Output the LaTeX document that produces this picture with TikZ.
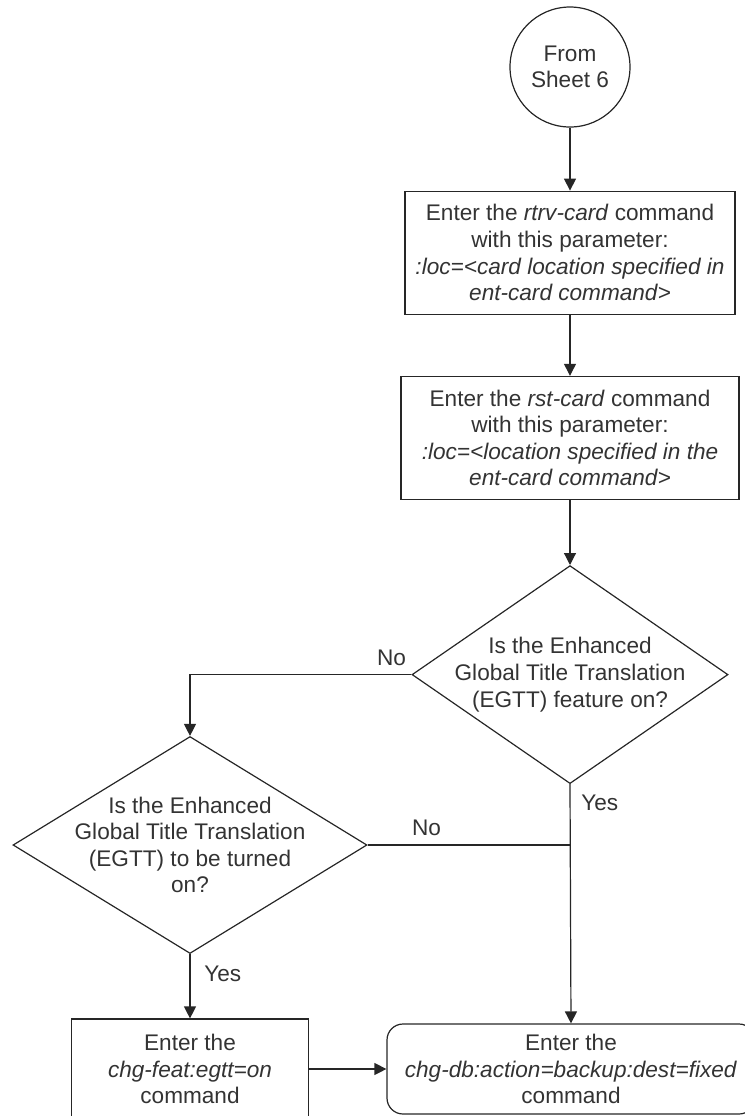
\documentclass[tikz,border=0pt]{standalone}
\usepackage{fontspec}
\setmainfont{Liberation Sans}
\usetikzlibrary{positioning, shapes.geometric, arrows.meta}

\begin{document}
\begin{tikzpicture}[
    x=1pt, y=1pt,
    node distance=30pt,
    every node/.style={font=\fontsize{11.3}{13.3}\selectfont, text=black!80},
    connector/.style={draw=black!85, line width=0.6pt, circle, minimum size=60pt, inner sep=0pt, align=center},
    process/.style={draw=black!85, line width=0.6pt, minimum height=61.5pt, inner xsep=1pt, align=center},
    decision/.style={draw=black!85, line width=0.6pt, diamond, inner sep=0pt},
    terminal/.style={draw=black!85, line width=0.6pt, rounded corners=8pt, align=center},
    lbl/.style={inner sep=0pt},
    arrow/.style={-{Triangle[length=6pt, width=6pt]}, line width=0.6pt, draw=black!85},
    line/.style={line width=0.6pt, draw=black!85}
  ]
  \useasboundingbox (0,0) rectangle (372.5,-558);

  % Nodes
  \node[connector] (start) at (285,-33.5) {From\\Sheet 6};
  \node[process, minimum width=165pt, below=31.5pt of start] (rtrv) {Enter the \textit{rtrv-card} command\\with this parameter:\\\textit{:loc=<card location specified in}\\\textit{ent-card command>}};
  \node[process, minimum width=169pt, below=30.5pt of rtrv] (rst) {Enter the \textit{rst-card} command\\with this parameter:\\\textit{:loc=<location specified in the}\\\textit{ent-card command>}};
  \node[decision, minimum width=158pt, minimum height=109pt, below=32.5pt of rst] (egttOn) {};
  \node[align=center] (egttOnText) at (egttOn.center) {Is the Enhanced\\Global Title Translation\\(EGTT) feature on?};
  \node[decision, minimum width=177pt, minimum height=108.5pt] (egttTurn) at (95,-422.5) {};
  \node[align=center] (egttTurnText) at (egttTurn.center) {Is the Enhanced\\Global Title Translation\\(EGTT) to be turned\\on?};
  \node[process, minimum width=118.5pt, minimum height=50pt] (chgFeat) at (95,-534.5) {Enter the\\\textit{chg-feat:egtt=on}\\command};
  \node[terminal, minimum width=184pt, minimum height=45pt] (chgDb) at (285.5,-534.5) {Enter the\\\textit{chg-db:action=backup:dest=fixed}\\command};

  % Labels
  \node[lbl, above left=4pt and 2.5pt of egttOn.west] (noOn) {No};
  \node[lbl, below right=5pt and 5.5pt of egttOn.south] (yesOn) {Yes};
  \node[lbl, above right=4.5pt and 22pt of egttTurn.east] (noTurn) {No};
  \node[lbl, below right=5.5pt and 7pt of egttTurn.south] (yesTurn) {Yes};

  % Arrows
  \draw[arrow] (start) -- (rtrv);
  \draw[arrow] (rtrv) -- (rst);
  \draw[arrow] (rst) -- (egttOn);
  \draw[arrow] (egttOn.west) -| (egttTurn.north);
  \draw[arrow] (egttOn.south) -- (chgDb.north);
  \coordinate (yesJoin) at (egttOn.south |- egttTurn.east);
  \draw[line] (egttTurn.east) -- (yesJoin);
  \draw[arrow] (egttTurn.south) -- (chgFeat.north);
  \draw[arrow] (chgFeat.east) -- (chgDb.west);

\end{tikzpicture}
\end{document}
